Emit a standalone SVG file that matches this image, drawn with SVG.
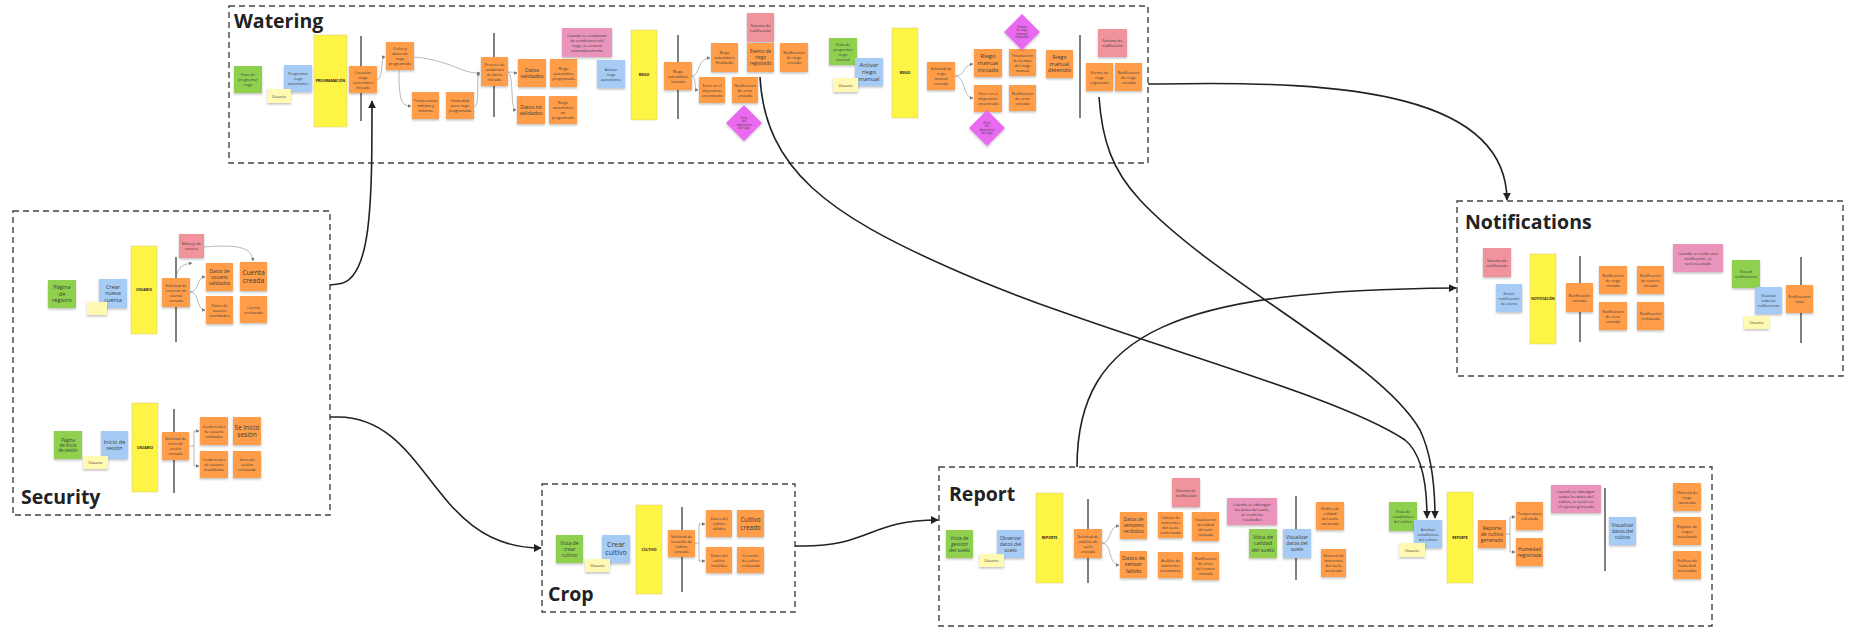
<svg xmlns="http://www.w3.org/2000/svg" width="1860" height="644" viewBox="0 0 1860 644">
<defs>
<filter id="sh" x="-20%" y="-20%" width="140%" height="150%"><feDropShadow dx="0" dy="1.4" stdDeviation="0.9" flood-color="#000" flood-opacity="0.25"/></filter>
<marker id="ab" viewBox="0 0 10 10" refX="9" refY="5" markerWidth="8" markerHeight="8" markerUnits="userSpaceOnUse" orient="auto"><path d="M0,0 L10,5 L0,10 z" fill="#222"/></marker>
<marker id="as" viewBox="0 0 10 10" refX="9" refY="5" markerWidth="3.5" markerHeight="3.5" markerUnits="userSpaceOnUse" orient="auto"><path d="M0,0 L10,5 L0,10 z" fill="#777"/></marker>
</defs>
<style>
.n{filter:url(#sh)}
.o{fill:#FF9D48}.g{fill:#8FD14F}.b{fill:#A6CCF5}.y{fill:#FFF9B1}.Y{fill:#FEF445;stroke:#d9d27a;stroke-width:0.6}.p{fill:#F0939D}.m{fill:#EA94BB}.d{fill:#E96BF0}
text{font-family:"Open Sans","Noto Sans","Liberation Sans",sans-serif;fill:#3a3a3a;text-anchor:middle}
.t{font-size:3.9px}.tb{font-size:3.5px;font-weight:bold;fill:#222}
.box{fill:none;stroke:#444;stroke-width:1.4;stroke-dasharray:6 4}
.h{font-size:19.5px;font-weight:bold;fill:#222;text-anchor:start}
.v{stroke:#555;stroke-width:1.5}
.c{fill:none;stroke:#222;stroke-width:1.6;marker-end:url(#ab)}
.s{fill:none;stroke:#888;stroke-width:0.6;marker-end:url(#as)}
</style>
<rect width="1860" height="644" fill="#ffffff"/>

<!-- Frames -->
<g id="frame-watering"><rect class="box" x="229" y="6" width="919" height="157"/><text class="h" x="234" y="28">Watering</text></g>
<g id="frame-security"><rect class="box" x="13" y="211" width="317" height="304"/><text class="h" x="21" y="504">Security</text></g>
<g id="frame-crop"><rect class="box" x="542" y="484" width="253" height="128"/><text class="h" x="548" y="601">Crop</text></g>
<g id="frame-report"><rect class="box" x="939" y="467" width="773" height="159"/><text class="h" x="949" y="501">Report</text></g>
<g id="frame-notifications"><rect class="box" x="1457" y="201" width="386" height="175"/><text class="h" x="1465" y="229">Notifications</text></g>

<!-- Timeline lines -->
<g id="timelines">
<line class="v" x1="361" y1="36" x2="361" y2="121"/>
<line class="v" x1="494" y1="33" x2="494" y2="117"/>
<line class="v" x1="678" y1="35" x2="678" y2="119"/>
<line class="v" x1="1080" y1="35" x2="1080" y2="118"/>
<line class="v" x1="176" y1="257" x2="176" y2="342"/>
<line class="v" x1="174" y1="409" x2="174" y2="493"/>
<line class="v" x1="682" y1="507" x2="682" y2="592"/>
<line class="v" x1="1088" y1="499" x2="1088" y2="583"/>
<line class="v" x1="1296" y1="496" x2="1296" y2="580"/>
<line class="v" x1="1605" y1="488" x2="1605" y2="571"/>
<line class="v" x1="1580" y1="256" x2="1580" y2="342"/>
<line class="v" x1="1801" y1="257" x2="1801" y2="343"/>
</g>

<!-- WATERING -->
<g id="w1"><rect class="n g" x="234" y="66" width="28" height="27"/><text class="t" x="248" y="76"><tspan x="248">Vista de</tspan><tspan x="248" dy="5">programar</tspan><tspan x="248" dy="5">riego</tspan></text></g>
<g id="w3"><rect class="n b" x="284" y="65" width="28" height="27"/><text class="t" x="298" y="75"><tspan x="298">Programar</tspan><tspan x="298" dy="5">riego</tspan><tspan x="298" dy="5">automático</tspan></text></g>
<g id="w2"><rect class="n y" x="267" y="89" width="24" height="14"/><text class="t" x="279" y="97.5">Usuario</text></g>
<g id="w4"><rect class="Y" x="314" y="35" width="33" height="92"/><text class="tb" x="330.5" y="82.3">PROGRAMACIÓN</text></g>
<g id="w6"><rect class="n o" x="349" y="66" width="28" height="27"/><text class="t" x="363" y="73.5"><tspan x="363">Creación</tspan><tspan x="363" dy="5">riego</tspan><tspan x="363" dy="5">automático</tspan><tspan x="363" dy="5">iniciado</tspan></text></g>
<g id="w7"><rect class="n o" x="386" y="42" width="28" height="28"/><text class="t" x="400" y="50"><tspan x="400">Fecha y</tspan><tspan x="400" dy="5">datos de</tspan><tspan x="400" dy="5">riego</tspan><tspan x="400" dy="5">programado</tspan></text></g>
<g id="w8"><rect class="n o" x="412" y="92" width="27" height="27"/><text class="t" x="425.5" y="102"><tspan x="425.5">Temperatura</tspan><tspan x="425.5" dy="5">mínima y</tspan><tspan x="425.5" dy="5">máxima</tspan></text></g>
<g id="w9"><rect class="n o" x="446" y="92" width="28" height="27"/><text class="t" x="460" y="102"><tspan x="460">Humedad</tspan><tspan x="460" dy="5">para riego</tspan><tspan x="460" dy="5">programada</tspan></text></g>
<g id="w10"><rect class="n o" x="481" y="57" width="27" height="29"/><text class="t" x="494.5" y="65.5"><tspan x="494.5">Proceso de</tspan><tspan x="494.5" dy="5">validación</tspan><tspan x="494.5" dy="5">de datos</tspan><tspan x="494.5" dy="5">iniciado</tspan></text></g>
<g id="w12"><rect class="n o" x="518" y="59" width="28" height="28"/><text x="532" y="71.7" style="font-size:5.2px"><tspan x="532">Datos</tspan><tspan x="532" dy="6.2">validados</tspan></text></g>
<g id="w13"><rect class="n o" x="517" y="96" width="28" height="28"/><text x="531" y="108.7" style="font-size:5.2px"><tspan x="531">Datos no</tspan><tspan x="531" dy="6.2">validados</tspan></text></g>
<g id="w14"><rect class="n o" x="550" y="59" width="27" height="28"/><text class="t" x="563.5" y="69.5"><tspan x="563.5">Riego</tspan><tspan x="563.5" dy="5">automático</tspan><tspan x="563.5" dy="5">programado</tspan></text></g>
<g id="w15"><rect class="n o" x="549" y="96" width="28" height="28"/><text class="t" x="563" y="104"><tspan x="563">Riego</tspan><tspan x="563" dy="5">automático</tspan><tspan x="563" dy="5">no</tspan><tspan x="563" dy="5">programado</tspan></text></g>
<g id="w16"><rect class="n m" x="562" y="28" width="50" height="29"/><text class="t" x="587" y="36.5"><tspan x="587">Cuando se completan</tspan><tspan x="587" dy="5">las condiciones del</tspan><tspan x="587" dy="5">riego, se acciona</tspan><tspan x="587" dy="5">automáticamente</tspan></text></g>
<g id="w17"><rect class="n b" x="597" y="60" width="28" height="28"/><text class="t" x="611" y="70.5"><tspan x="611">Activar</tspan><tspan x="611" dy="5">riego</tspan><tspan x="611" dy="5">automático</tspan></text></g>
<g id="w18"><rect class="Y" x="631" y="30" width="26" height="90"/><text class="tb" x="644" y="76.3">RIEGO</text></g>
<g id="w20"><rect class="n o" x="664" y="62" width="28" height="28"/><text class="t" x="678" y="72.5"><tspan x="678">Riego</tspan><tspan x="678" dy="5">automático</tspan><tspan x="678" dy="5">iniciado</tspan></text></g>
<g id="w21"><rect class="n o" x="711" y="43" width="27" height="29"/><text class="t" x="724.5" y="54"><tspan x="724.5">Riego</tspan><tspan x="724.5" dy="5">automático</tspan><tspan x="724.5" dy="5">finalizado</tspan></text></g>
<g id="w22"><rect class="n o" x="699" y="77" width="26" height="26"/><text class="t" x="712" y="86.5"><tspan x="712">Error en el</tspan><tspan x="712" dy="5">dispositivo</tspan><tspan x="712" dy="5">encontrado</tspan></text></g>
<g id="w23"><rect class="n o" x="732" y="77" width="26" height="26"/><text class="t" x="745" y="86.5"><tspan x="745">Notificación</tspan><tspan x="745" dy="5">de error</tspan><tspan x="745" dy="5">enviada</tspan></text></g>
<g id="w24"><rect class="n p" x="747" y="13" width="27" height="29"/><text class="t" x="760.5" y="26.5"><tspan x="760.5">Sistema de</tspan><tspan x="760.5" dy="5">notificación</tspan></text></g>
<g id="w25"><rect class="n o" x="747" y="43" width="27" height="29"/><text x="760.5" y="53.4" style="font-size:4.6px"><tspan x="760.5">Evento de</tspan><tspan x="760.5" dy="5.8">riego</tspan><tspan x="760.5" dy="5.8">registrado</tspan></text></g>
<g id="w26"><rect class="n o" x="780" y="43" width="28" height="29"/><text class="t" x="794" y="54"><tspan x="794">Notificación</tspan><tspan x="794" dy="5">de riego</tspan><tspan x="794" dy="5">enviada</tspan></text></g>
<g id="w27"><polygon class="n d" points="744,105 762,123 744,141 726,123"/><text x="744" y="118.6" style="font-size:3px"><tspan x="744">Error</tspan><tspan x="744" dy="3.6">del</tspan><tspan x="744" dy="3.6">dispositivo</tspan><tspan x="744" dy="3.6">de riego</tspan></text></g>
<g id="w28"><rect class="n g" x="829" y="38" width="28" height="27"/><text class="t" x="843" y="45.5"><tspan x="843">Vista de</tspan><tspan x="843" dy="5">programar</tspan><tspan x="843" dy="5">riego</tspan><tspan x="843" dy="5">manual</tspan></text></g>
<g id="w29"><rect class="n b" x="855" y="58" width="28" height="28"/><text x="869" y="67.1" style="font-size:6px"><tspan x="869">Activar</tspan><tspan x="869" dy="7">riego</tspan><tspan x="869" dy="7">manual</tspan></text></g>
<g id="w30"><rect class="n y" x="833" y="78" width="25" height="14"/><text class="t" x="845.5" y="86.5">Usuario</text></g>
<g id="w31"><rect class="Y" x="892" y="28" width="26" height="90"/><text class="tb" x="905" y="74.3">RIEGO</text></g>
<g id="w32"><rect class="n o" x="927" y="62" width="28" height="28"/><text class="t" x="941" y="70"><tspan x="941">Solicitud de</tspan><tspan x="941" dy="5">riego</tspan><tspan x="941" dy="5">manual</tspan><tspan x="941" dy="5">enviada</tspan></text></g>
<g id="w33"><rect class="n o" x="974" y="49" width="28" height="28"/><text x="988" y="58.1" style="font-size:5.8px"><tspan x="988">Riego</tspan><tspan x="988" dy="7">manual</tspan><tspan x="988" dy="7">iniciado</tspan></text></g>
<g id="w34"><rect class="n o" x="974" y="85" width="28" height="27"/><text class="t" x="988" y="95"><tspan x="988">Error en el</tspan><tspan x="988" dy="5">dispositivo</tspan><tspan x="988" dy="5">encontrado</tspan></text></g>
<g id="w35"><rect class="n o" x="1009" y="49" width="27" height="27"/><text class="t" x="1022.5" y="56.5"><tspan x="1022.5">Finalización</tspan><tspan x="1022.5" dy="5">de tiempo</tspan><tspan x="1022.5" dy="5">del riego</tspan><tspan x="1022.5" dy="5">manual</tspan></text></g>
<g id="w36"><rect class="n o" x="1009" y="85" width="27" height="26"/><text class="t" x="1022.5" y="94.5"><tspan x="1022.5">Notificación</tspan><tspan x="1022.5" dy="5">de error</tspan><tspan x="1022.5" dy="5">enviada</tspan></text></g>
<g id="w37"><rect class="n o" x="1046" y="50" width="27" height="28"/><text x="1059.5" y="59.4" style="font-size:5.5px"><tspan x="1059.5">Riego</tspan><tspan x="1059.5" dy="6.5">manual</tspan><tspan x="1059.5" dy="6.5">detenido</tspan></text></g>
<g id="w38"><polygon class="n d" points="1022,14 1040,32 1022,50 1004,32"/><text x="1022" y="27.6" style="font-size:3px"><tspan x="1022">Tiempo</tspan><tspan x="1022" dy="3.6">de riego</tspan><tspan x="1022" dy="3.6">manual</tspan><tspan x="1022" dy="3.6">finalizado</tspan></text></g>
<g id="w39"><polygon class="n d" points="987,110 1005,128 987,146 969,128"/><text x="987" y="123.6" style="font-size:3px"><tspan x="987">Error</tspan><tspan x="987" dy="3.6">del</tspan><tspan x="987" dy="3.6">dispositivo</tspan><tspan x="987" dy="3.6">de riego</tspan></text></g>
<g id="w41"><rect class="n p" x="1098" y="29" width="29" height="28"/><text class="t" x="1112.5" y="42"><tspan x="1112.5">Sistema de</tspan><tspan x="1112.5" dy="5">notificación</tspan></text></g>
<g id="w42"><rect class="n o" x="1086" y="63" width="27" height="28"/><text class="t" x="1099.5" y="73.5"><tspan x="1099.5">Evento de</tspan><tspan x="1099.5" dy="5">riego</tspan><tspan x="1099.5" dy="5">registrado</tspan></text></g>
<g id="w43"><rect class="n o" x="1115" y="63" width="27" height="28"/><text class="t" x="1128.5" y="73.5"><tspan x="1128.5">Notificación</tspan><tspan x="1128.5" dy="5">de riego</tspan><tspan x="1128.5" dy="5">enviada</tspan></text></g>

<!-- SECURITY -->
<g id="s1"><rect class="n g" x="48" y="280" width="28" height="28"/><text x="62" y="289.4" style="font-size:5.5px"><tspan x="62">Página</tspan><tspan x="62" dy="6.5">de</tspan><tspan x="62" dy="6.5">registro</tspan></text></g>
<g id="s2"><rect class="n b" x="99" y="279" width="28" height="29"/><text x="113" y="288.9" style="font-size:5.5px"><tspan x="113">Crear</tspan><tspan x="113" dy="6.5">nueva</tspan><tspan x="113" dy="6.5">cuenta</tspan></text></g>
<g id="s3"><rect class="n y" x="87" y="302" width="20" height="13"/></g>
<g id="s4"><rect class="Y" x="131" y="246" width="26" height="88"/><text class="tb" x="144" y="291.3">USUARIO</text></g>
<g id="s6"><rect class="n o" x="162" y="278" width="28" height="29"/><text class="t" x="176" y="286.5"><tspan x="176">Solicitud de</tspan><tspan x="176" dy="5">creación de</tspan><tspan x="176" dy="5">cuenta</tspan><tspan x="176" dy="5">enviada</tspan></text></g>
<g id="s7"><rect class="n p" x="179" y="234" width="25" height="24"/><text class="t" x="191.5" y="245"><tspan x="191.5">Manejo de</tspan><tspan x="191.5" dy="5">errores</tspan></text></g>
<g id="s8"><rect class="n o" x="206" y="263" width="27" height="28"/><text x="219.5" y="272.8" style="font-size:4.8px"><tspan x="219.5">Datos de</tspan><tspan x="219.5" dy="6">usuario</tspan><tspan x="219.5" dy="6">validados</tspan></text></g>
<g id="s9"><rect class="n o" x="206" y="296" width="27" height="28"/><text class="t" x="219.5" y="306.5"><tspan x="219.5">Datos de</tspan><tspan x="219.5" dy="5">usuario</tspan><tspan x="219.5" dy="5">invalidados</tspan></text></g>
<g id="s10"><rect class="n o" x="240" y="262" width="27" height="29"/><text x="253.5" y="274.9" style="font-size:6.8px"><tspan x="253.5">Cuenta</tspan><tspan x="253.5" dy="8">creada</tspan></text></g>
<g id="s11"><rect class="n o" x="240" y="296" width="27" height="27"/><text class="t" x="253.5" y="308.5"><tspan x="253.5">Cuenta</tspan><tspan x="253.5" dy="5">rechazada</tspan></text></g>
<g id="s12"><rect class="n g" x="54" y="431" width="28" height="28"/><text x="68" y="441.5" style="font-size:4.4px"><tspan x="68">Página</tspan><tspan x="68" dy="5">de inicio</tspan><tspan x="68" dy="5">de sesión</tspan></text></g>
<g id="s14"><rect class="n b" x="101" y="431" width="27" height="28"/><text x="114.5" y="443.7" style="font-size:5.5px"><tspan x="114.5">Inicio de</tspan><tspan x="114.5" dy="6.5">sesión</tspan></text></g>
<g id="s13"><rect class="n y" x="83" y="456" width="25" height="13"/><text class="t" x="95.5" y="464">Usuario</text></g>
<g id="s15"><rect class="Y" x="132" y="403" width="26" height="89"/><text class="tb" x="145" y="448.8">USUARIO</text></g>
<g id="s17"><rect class="n o" x="162" y="432" width="27" height="28"/><text class="t" x="175.5" y="440"><tspan x="175.5">Solicitud de</tspan><tspan x="175.5" dy="5">inicio de</tspan><tspan x="175.5" dy="5">sesión</tspan><tspan x="175.5" dy="5">enviada</tspan></text></g>
<g id="s18"><rect class="n o" x="200" y="417" width="28" height="28"/><text class="t" x="214" y="427.5"><tspan x="214">Credenciales</tspan><tspan x="214" dy="5">de usuario</tspan><tspan x="214" dy="5">validadas</tspan></text></g>
<g id="s19"><rect class="n o" x="200" y="451" width="28" height="27"/><text class="t" x="214" y="461"><tspan x="214">Credenciales</tspan><tspan x="214" dy="5">de usuario</tspan><tspan x="214" dy="5">invalidadas</tspan></text></g>
<g id="s20"><rect class="n o" x="233" y="417" width="28" height="28"/><text x="247" y="429.5" style="font-size:6.5px"><tspan x="247">Se inició</tspan><tspan x="247" dy="7.5">sesión</tspan></text></g>
<g id="s21"><rect class="n o" x="233" y="451" width="28" height="27"/><text class="t" x="247" y="461"><tspan x="247">Inicio de</tspan><tspan x="247" dy="5">sesión</tspan><tspan x="247" dy="5">rechazado</tspan></text></g>

<!-- CROP -->
<g id="c1"><rect class="n g" x="556" y="535" width="27" height="28"/><text x="569.5" y="544.8" style="font-size:5px"><tspan x="569.5">Vista de</tspan><tspan x="569.5" dy="6">crear</tspan><tspan x="569.5" dy="6">cultivo</tspan></text></g>
<g id="c3"><rect class="n b" x="602" y="535" width="28" height="28"/><text x="616" y="547.4" style="font-size:7px"><tspan x="616">Crear</tspan><tspan x="616" dy="8">cultivo</tspan></text></g>
<g id="c2"><rect class="n y" x="585" y="559" width="25" height="13"/><text class="t" x="597.5" y="567">Usuario</text></g>
<g id="c4"><rect class="Y" x="636" y="505" width="26" height="89"/><text class="tb" x="649" y="550.8">CULTIVO</text></g>
<g id="c6"><rect class="n o" x="668" y="530" width="27" height="27"/><text class="t" x="681.5" y="537.5"><tspan x="681.5">Solicitud de</tspan><tspan x="681.5" dy="5">creación de</tspan><tspan x="681.5" dy="5">cultivo</tspan><tspan x="681.5" dy="5">enviada</tspan></text></g>
<g id="c7"><rect class="n o" x="706" y="510" width="26" height="27"/><text class="t" x="719" y="520"><tspan x="719">Datos del</tspan><tspan x="719" dy="5">cultivo</tspan><tspan x="719" dy="5">válidos</tspan></text></g>
<g id="c8"><rect class="n o" x="706" y="547" width="26" height="26"/><text class="t" x="719" y="556.5"><tspan x="719">Datos del</tspan><tspan x="719" dy="5">cultivo</tspan><tspan x="719" dy="5">inválidos</tspan></text></g>
<g id="c9"><rect class="n o" x="737" y="510" width="27" height="27"/><text x="750.5" y="522" style="font-size:6.3px"><tspan x="750.5">Cultivo</tspan><tspan x="750.5" dy="7.5">creado</tspan></text></g>
<g id="c10"><rect class="n o" x="737" y="547" width="27" height="26"/><text class="t" x="750.5" y="556.5"><tspan x="750.5">Creación</tspan><tspan x="750.5" dy="5">de cultivo</tspan><tspan x="750.5" dy="5">rechazada</tspan></text></g>

<!-- REPORT -->
<g id="r1"><rect class="n g" x="946" y="530" width="27" height="28"/><text x="959.5" y="539.8" style="font-size:5px"><tspan x="959.5">Vista de</tspan><tspan x="959.5" dy="6">gestión</tspan><tspan x="959.5" dy="6">del suelo</tspan></text></g>
<g id="r3"><rect class="n b" x="997" y="530" width="27" height="28"/><text x="1010.5" y="539.8" style="font-size:5px"><tspan x="1010.5">Observar</tspan><tspan x="1010.5" dy="6">datos del</tspan><tspan x="1010.5" dy="6">suelo</tspan></text></g>
<g id="r2"><rect class="n y" x="979" y="554" width="25" height="13"/><text class="t" x="991.5" y="562">Usuario</text></g>
<g id="r4"><rect class="Y" x="1036" y="493" width="27" height="90"/><text class="tb" x="1049.5" y="539.3">REPORTE</text></g>
<g id="r6"><rect class="n o" x="1074" y="529" width="28" height="29"/><text class="t" x="1088" y="537.5"><tspan x="1088">Solicitud de</tspan><tspan x="1088" dy="5">análisis de</tspan><tspan x="1088" dy="5">suelo</tspan><tspan x="1088" dy="5">enviada</tspan></text></g>
<g id="r7"><rect class="n o" x="1120" y="512" width="27" height="27"/><text x="1133.5" y="521.3" style="font-size:4.8px"><tspan x="1133.5">Datos de</tspan><tspan x="1133.5" dy="6">sensores</tspan><tspan x="1133.5" dy="6">recibidos</tspan></text></g>
<g id="r8"><rect class="n o" x="1120" y="551" width="27" height="27"/><text x="1133.5" y="559.9" style="font-size:5.5px"><tspan x="1133.5">Datos de</tspan><tspan x="1133.5" dy="6.5">sensor</tspan><tspan x="1133.5" dy="6.5">fallido</tspan></text></g>
<g id="r9"><rect class="n o" x="1158" y="512" width="25" height="26"/><text class="t" x="1170.5" y="519"><tspan x="1170.5">Cálculo de</tspan><tspan x="1170.5" dy="5">nutrientes</tspan><tspan x="1170.5" dy="5">del suelo</tspan><tspan x="1170.5" dy="5">comenzado</tspan></text></g>
<g id="r10"><rect class="n o" x="1158" y="552" width="25" height="26"/><text class="t" x="1170.5" y="561.5"><tspan x="1170.5">Análisis de</tspan><tspan x="1170.5" dy="5">nutrientes</tspan><tspan x="1170.5" dy="5">incompleto</tspan></text></g>
<g id="r11"><rect class="n p" x="1172" y="478" width="28" height="29"/><text class="t" x="1186" y="491.5"><tspan x="1186">Sistema de</tspan><tspan x="1186" dy="5">notificación</tspan></text></g>
<g id="r12"><rect class="n o" x="1192" y="512" width="27" height="29"/><text class="t" x="1205.5" y="520.5" style="font-size:3.5px"><tspan x="1205.5">Visualización</tspan><tspan x="1205.5" dy="5">de calidad</tspan><tspan x="1205.5" dy="5">del suelo</tspan><tspan x="1205.5" dy="5">realizada</tspan></text></g>
<g id="r13"><rect class="n o" x="1192" y="552" width="27" height="28"/><text class="t" x="1205.5" y="560"><tspan x="1205.5">Notificación</tspan><tspan x="1205.5" dy="5">de error</tspan><tspan x="1205.5" dy="5">del sensor</tspan><tspan x="1205.5" dy="5">enviada</tspan></text></g>
<g id="r14"><rect class="n m" x="1227" y="498" width="50" height="27"/><text class="t" x="1252" y="505.5"><tspan x="1252">Cuando se obtengan</tspan><tspan x="1252" dy="5">los datos del suelo,</tspan><tspan x="1252" dy="5">se verán los</tspan><tspan x="1252" dy="5">resultados</tspan></text></g>
<g id="r15"><rect class="n g" x="1249" y="529" width="28" height="29"/><text x="1263" y="538.9" style="font-size:5.5px"><tspan x="1263">Vista de</tspan><tspan x="1263" dy="6.5">calidad</tspan><tspan x="1263" dy="6.5">del suelo</tspan></text></g>
<g id="r16"><rect class="n b" x="1283" y="529" width="28" height="29"/><text x="1297" y="539.3" style="font-size:5px"><tspan x="1297">Visualizar</tspan><tspan x="1297" dy="6">datos del</tspan><tspan x="1297" dy="6">suelo</tspan></text></g>
<g id="r18"><rect class="n o" x="1316" y="502" width="28" height="28"/><text class="t" x="1330" y="510"><tspan x="1330">Gráfica de</tspan><tspan x="1330" dy="5">calidad</tspan><tspan x="1330" dy="5">del suelo</tspan><tspan x="1330" dy="5">mostrada</tspan></text></g>
<g id="r19"><rect class="n o" x="1321" y="549" width="25" height="28"/><text class="t" x="1333.5" y="557"><tspan x="1333.5">Historial de</tspan><tspan x="1333.5" dy="5">nutrientes</tspan><tspan x="1333.5" dy="5">del suelo</tspan><tspan x="1333.5" dy="5">mostrado</tspan></text></g>
<g id="r20"><rect class="n g" x="1389" y="502" width="28" height="29"/><text class="t" x="1403" y="513"><tspan x="1403">Vista de</tspan><tspan x="1403" dy="5">estadísticas</tspan><tspan x="1403" dy="5">del cultivo</tspan></text></g>
<g id="r21"><rect class="n b" x="1414" y="520" width="28" height="28"/><text class="t" x="1428" y="530.5"><tspan x="1428">Analizar</tspan><tspan x="1428" dy="5">estadísticas</tspan><tspan x="1428" dy="5">del cultivo</tspan></text></g>
<g id="r22"><rect class="n y" x="1399" y="543" width="26" height="14"/><text class="t" x="1412" y="551.5">Usuario</text></g>
<g id="r23"><rect class="Y" x="1447" y="492" width="26" height="91"/><text class="tb" x="1460" y="538.8">REPORTE</text></g>
<g id="r24"><rect class="n o" x="1478" y="520" width="28" height="28"/><text x="1492" y="529.8" style="font-size:5px"><tspan x="1492">Reporte</tspan><tspan x="1492" dy="6">de cultivo</tspan><tspan x="1492" dy="6">generado</tspan></text></g>
<g id="r25"><rect class="n o" x="1516" y="502" width="27" height="28"/><text class="t" x="1529.5" y="515"><tspan x="1529.5">Temperatura</tspan><tspan x="1529.5" dy="5">calculada</tspan></text></g>
<g id="r26"><rect class="n o" x="1516" y="538" width="27" height="28"/><text x="1529.5" y="550.8" style="font-size:5px"><tspan x="1529.5">Humedad</tspan><tspan x="1529.5" dy="6">registrada</tspan></text></g>
<g id="r27"><rect class="n m" x="1551" y="485" width="50" height="28"/><text class="t" x="1576" y="493"><tspan x="1576">Cuando se obtengan</tspan><tspan x="1576" dy="5">todos los datos del</tspan><tspan x="1576" dy="5">cultivo, se verán en</tspan><tspan x="1576" dy="5">el reporte generado</tspan></text></g>
<g id="r29"><rect class="n b" x="1609" y="517" width="27" height="28"/><text x="1622.5" y="526.8" style="font-size:5px"><tspan x="1622.5">Visualizar</tspan><tspan x="1622.5" dy="6">datos del</tspan><tspan x="1622.5" dy="6">cultivo</tspan></text></g>
<g id="r30"><rect class="n o" x="1673" y="483" width="28" height="28"/><text class="t" x="1687" y="493.5"><tspan x="1687">Historial de</tspan><tspan x="1687" dy="5">riego</tspan><tspan x="1687" dy="5">mostrado</tspan></text></g>
<g id="r31"><rect class="n o" x="1673" y="517" width="28" height="28"/><text class="t" x="1687" y="527.5"><tspan x="1687">Registro de</tspan><tspan x="1687" dy="5">riegos</tspan><tspan x="1687" dy="5">visualizado</tspan></text></g>
<g id="r32"><rect class="n o" x="1673" y="551" width="28" height="28"/><text class="t" x="1687" y="561.5"><tspan x="1687">Gráficas de</tspan><tspan x="1687" dy="5">humedad</tspan><tspan x="1687" dy="5">mostradas</tspan></text></g>

<!-- NOTIFICATIONS -->
<g id="n1"><rect class="n p" x="1483" y="248" width="28" height="29"/><text class="t" x="1497" y="261.5"><tspan x="1497">Sistema de</tspan><tspan x="1497" dy="5">notificación</tspan></text></g>
<g id="n2"><rect class="n b" x="1496" y="284" width="26" height="28"/><text class="t" x="1509" y="294.5"><tspan x="1509">Enviar</tspan><tspan x="1509" dy="5">notificación</tspan><tspan x="1509" dy="5">de alerta</tspan></text></g>
<g id="n3"><rect class="Y" x="1530" y="254" width="26" height="90"/><text class="tb" x="1543" y="300.3" style="font-size:3.2px">NOTIFICACIÓN</text></g>
<g id="n5"><rect class="n o" x="1566" y="283" width="27" height="29"/><text class="t" x="1579.5" y="296.5"><tspan x="1579.5">Notificación</tspan><tspan x="1579.5" dy="5">enviada</tspan></text></g>
<g id="n6"><rect class="n o" x="1599" y="266" width="28" height="28"/><text class="t" x="1613" y="276.5"><tspan x="1613">Notificación</tspan><tspan x="1613" dy="5">de riego</tspan><tspan x="1613" dy="5">enviada</tspan></text></g>
<g id="n7"><rect class="n o" x="1599" y="302" width="28" height="28"/><text class="t" x="1613" y="312.5"><tspan x="1613">Notificación</tspan><tspan x="1613" dy="5">de error</tspan><tspan x="1613" dy="5">enviada</tspan></text></g>
<g id="n8"><rect class="n o" x="1637" y="266" width="27" height="28"/><text class="t" x="1650.5" y="276.5"><tspan x="1650.5">Notificación</tspan><tspan x="1650.5" dy="5">de reporte</tspan><tspan x="1650.5" dy="5">enviada</tspan></text></g>
<g id="n9"><rect class="n o" x="1637" y="302" width="27" height="28"/><text class="t" x="1650.5" y="315"><tspan x="1650.5">Notificación</tspan><tspan x="1650.5" dy="5">rechazada</tspan></text></g>
<g id="n10"><rect class="n m" x="1673" y="244" width="50" height="28"/><text class="t" x="1698" y="254.5"><tspan x="1698">Cuando se recibe una</tspan><tspan x="1698" dy="5">notificación, se</tspan><tspan x="1698" dy="5">verá su estado</tspan></text></g>
<g id="n11"><rect class="n g" x="1732" y="260" width="28" height="28"/><text class="t" x="1746" y="273" style="font-size:3.4px"><tspan x="1746">Vista de</tspan><tspan x="1746" dy="5">notificaciones</tspan></text></g>
<g id="n12"><rect class="n b" x="1755" y="287" width="27" height="27"/><text class="t" x="1768.5" y="297" style="font-size:3.4px"><tspan x="1768.5">Visualizar</tspan><tspan x="1768.5" dy="5">todas las</tspan><tspan x="1768.5" dy="5">notificaciones</tspan></text></g>
<g id="n13"><rect class="n y" x="1744" y="316" width="25" height="13"/><text class="t" x="1756.5" y="324">Usuario</text></g>
<g id="n15"><rect class="n o" x="1786" y="285" width="27" height="28"/><text class="t" x="1799.5" y="298" style="font-size:3.4px"><tspan x="1799.5">Notificaciones</tspan><tspan x="1799.5" dy="5">vistas</tspan></text></g>

<!-- Connectors -->
<g id="connectors">
<path class="s" d="M377,80 C384,78 380,57 385,57"/>
<path class="s" d="M399,70 C399,100 401,106 411,106"/>
<path class="s" d="M414,57 C450,60 462,74 480,73"/>
<path class="s" d="M474,107 C481,105 475,75 480,74"/>
<path class="s" d="M508,72 C514,72 512,73 517,73"/>
<path class="s" d="M508,72 C514,75 510,110 516,110"/>
<path class="s" d="M692,76 C700,76 697,58 710,58"/>
<path class="s" d="M692,76 C697,78 693,90 698,90"/>
<path class="s" d="M955,76 C966,76 962,65 973,64"/>
<path class="s" d="M955,76 C966,76 962,98 973,98"/>
<path class="s" d="M190,292 C200,292 196,277 205,277"/>
<path class="s" d="M190,292 C200,292 196,310 205,310"/>
<path class="s" d="M176,278 C178,266 184,264 192,263"/>
<path class="s" d="M204,247 C240,244 252,248 253,261"/>
<path class="s" d="M189,446 L194,446 M194,446 L194,431 L199,431"/>
<path class="s" d="M194,446 L194,466 L199,466"/>
<path class="s" d="M695,543 L699,543 L699,524 L705,524"/>
<path class="s" d="M699,543 L699,561 L705,561"/>
<path class="s" d="M1102,543 C1112,543 1108,526 1119,526"/>
<path class="s" d="M1102,543 C1112,543 1108,565 1119,565"/>
<path class="s" d="M1506,534 L1510,534 L1510,517 L1515,517"/>
<path class="s" d="M1510,534 L1510,552 L1515,552"/>

<path class="c" d="M330,285 L338,284 C372,282 372,200 372,101"/>
<path class="c" d="M330,417 L338,417 C430,418 430,548 541,548"/>
<path class="c" d="M795,546 L803,546 C870,546 870,520 938,520"/>
<path class="c" d="M1148,84 L1160,84 C1350,80 1506,95 1507,200"/>
<path class="c" d="M1077,467 C1077,330 1180,290 1456,288"/>
<path class="c" d="M760,77 C765,170 830,215 950,268 C1100,335 1330,390 1405,440 C1420,452 1427,480 1427,518"/>
<path class="c" d="M1099,97 C1102,140 1112,170 1140,200 C1220,285 1380,360 1420,430 C1432,455 1435,485 1435,518"/>
</g>
</svg>
